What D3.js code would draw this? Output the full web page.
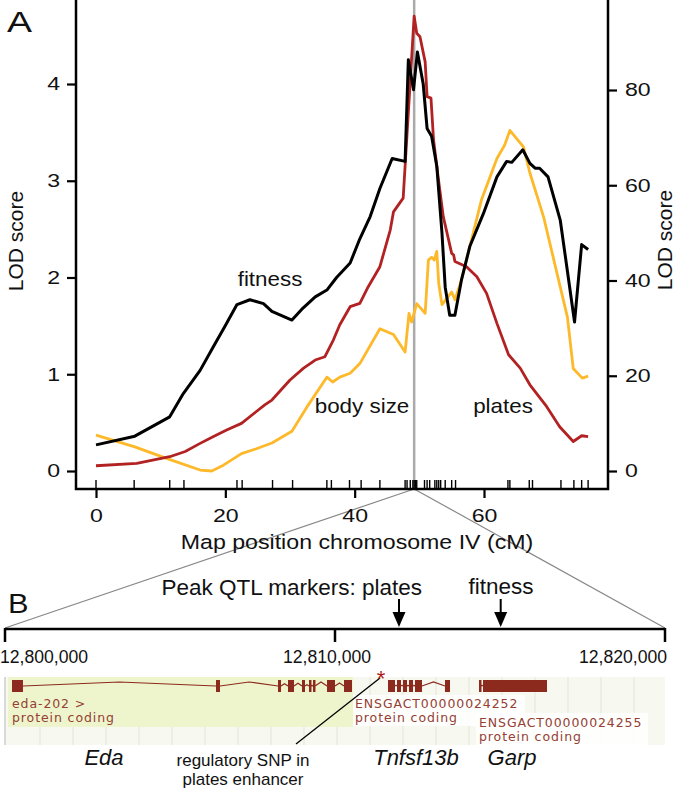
<!DOCTYPE html>
<html><head><meta charset="utf-8">
<script src="https://cdn.jsdelivr.net/npm/d3@7"></script>
<style>body{margin:0;background:#fff}svg{display:block}</style>
</head><body>
<svg id="c" width="677" height="790"></svg>
<script>
// ---------- Panel A data ----------
const fitnessCM  = [0, 6.0, 11.4, 13.5, 16.1, 18.1, 19.9, 21.8, 23.8, 25.9, 27.2, 30.3, 31.8, 33.9, 35.7, 37.2, 39.3, 40.8, 42.4, 43.9, 45.8, 47.8, 48.3, 49.1, 49.7, 50.6, 51.2, 51.9, 52.7, 53.5, 54.0, 54.7, 55.5, 56.5, 57.8, 59.9, 62.0, 63.5, 64.3, 66.0, 67.1, 67.9, 68.6, 69.9, 71.8, 74.0, 75.1, 76.1];
const fitnessLOD = [0.27, 0.36, 0.56, 0.80, 1.04, 1.28, 1.49, 1.72, 1.77, 1.73, 1.65, 1.56, 1.67, 1.80, 1.87, 2.00, 2.15, 2.40, 2.63, 2.92, 3.23, 3.20, 4.25, 3.94, 4.33, 4.00, 3.54, 3.46, 3.15, 2.46, 1.90, 1.61, 1.61, 1.97, 2.32, 2.66, 3.04, 3.20, 3.19, 3.32, 3.18, 3.13, 3.13, 3.04, 2.59, 1.54, 2.34, 2.29];

const bodyCM  = [0, 6.0, 10.9, 16.1, 17.9, 19.7, 22.5, 24.8, 27.2, 30.3, 32.6, 35.7, 36.6, 37.7, 39.3, 40.8, 43.9, 46.0, 47.8, 48.4, 48.8, 49.6, 50.9, 51.4, 51.9, 52.3, 52.7, 53.0, 53.5, 54.2, 55.0, 55.5, 56.5, 59.6, 62.0, 63.2, 64.0, 66.1, 67.1, 69.2, 72.9, 73.8, 75.2, 76.1];
const bodyLOD = [0.37, 0.25, 0.13, 0.01, 0.00, 0.06, 0.18, 0.23, 0.29, 0.41, 0.66, 0.97, 0.92, 0.97, 1.01, 1.11, 1.47, 1.41, 1.23, 1.63, 1.54, 1.73, 1.63, 2.18, 2.21, 2.18, 2.27, 1.94, 1.72, 1.78, 1.85, 1.77, 1.97, 2.80, 3.23, 3.37, 3.52, 3.35, 3.08, 2.63, 1.59, 1.06, 0.96, 0.98];

const platesCM  = [0, 6.3, 11.4, 13.8, 16.1, 18.1, 20.2, 22.5, 24.8, 26.1, 27.2, 30.0, 32.1, 33.9, 35.4, 36.7, 37.7, 39.3, 40.8, 42.1, 43.9, 45.5, 46.0, 47.5, 49.2, 49.6, 50.1, 50.9, 51.2, 51.8, 52.2, 52.9, 53.7, 54.5, 55.0, 55.3, 55.5, 57.3, 58.9, 60.4, 62.0, 63.8, 65.6, 67.1, 69.7, 71.7, 73.8, 75.1, 76.1];
const platesLOD = [1.1, 1.6, 3.0, 4.1, 5.8, 7.2, 8.6, 10.0, 12.5, 13.9, 14.9, 19.1, 21.6, 23.3, 24.0, 27.5, 30.7, 34.5, 35.2, 38.7, 42.9, 50.6, 54.4, 57.3, 95.5, 91.9, 91.2, 85.9, 78.6, 78.3, 69.5, 61.8, 53.4, 48.7, 45.7, 45.4, 44.0, 42.9, 40.8, 37.3, 31.0, 24.4, 21.6, 18.1, 13.5, 9.3, 6.2, 7.4, 7.2];

const markerCM = [0, 5.9, 11.4, 13.6, 21.8, 22.6, 27.3, 30.4, 35.7, 36.4, 39.2, 41.0, 43.9, 47.8, 48.1, 48.6, 49.0, 49.2, 49.4, 49.6, 50.8, 51.2, 51.6, 52.4, 52.7, 53.0, 53.3, 54.0, 55.0, 55.6, 63.7, 64.0, 67.0, 67.5, 71.9, 73.9, 75.1, 76.1];
const peakCM = 49.2;
const xTicks = [0, 20, 40, 60];
const leftTicks = [0, 1, 2, 3, 4];
const rightTicks = [0, 20, 40, 60, 80];

// ---------- Panel B data ----------
const genomeTicks = [12800000, 12810000, 12820000];
const edaExons = [[12800212,12800545],[12806394,12806515],[12808273,12808364],[12808576,12808758],[12809000,12809091],[12809212,12809273],[12809333,12809394],[12809758,12810000],[12810273,12810515]];
const tnfExons = [[12811606,12811818],[12811879,12812000],[12812061,12812182],[12812242,12812364],[12812424,12812636],[12813333,12813485]];
const garpExons = [[12814364,12814424],[12814485,12816424]];
const edaRegion = [12800091, 12810545];
const snpPos = 12811394;
const peakMarkers = [{label:"plates", pos:12811939}, {label:"fitness", pos:12815021}];

const svg = d3.select("#c");
const FONT = "'Liberation Sans', Arial, Helvetica, sans-serif";
const ENS = "'DejaVu Sans', Verdana, sans-serif";

// scales
const x = d3.scaleLinear().domain([0, 60]).range([96, 484]);
const yL = d3.scaleLinear().domain([0, 4]).range([471, 84]);
const yR = d3.scaleLinear().domain([0, 80]).range([471, 90]);
const axL = 76, axR = 608, axB = 489;

function stext(g, tx, ty, str, size, sx, anchor) {
  return g.append("text").attr("transform", `translate(${tx},${ty}) scale(${sx},1)`)
    .attr("font-family", FONT).attr("font-size", size).attr("text-anchor", anchor || "start")
    .attr("fill", "#111").text(str);
}

// peak grey line
svg.append("line").attr("x1", x(peakCM)).attr("x2", x(peakCM)).attr("y1", 0).attr("y2", axB)
  .attr("stroke", "#aaa").attr("stroke-width", 2.5);

// zoom connector lines
const gB = d3.scaleLinear().domain([12800000, 12820000]).range([5, 665]);
svg.append("line").attr("x1", x(peakCM)).attr("y1", axB).attr("x2", gB(genomeTicks[0])).attr("y2", 628)
  .attr("stroke", "#888").attr("stroke-width", 1.2);
svg.append("line").attr("x1", x(peakCM)).attr("y1", axB).attr("x2", gB(genomeTicks[2])).attr("y2", 628)
  .attr("stroke", "#888").attr("stroke-width", 1.2);

// curves
const lineL = d3.line().x(d => x(d[0])).y(d => yL(d[1]));
const lineR = d3.line().x(d => x(d[0])).y(d => yR(d[1]));
svg.append("path").attr("d", lineL(d3.zip(bodyCM, bodyLOD))).attr("fill", "none")
  .attr("stroke", "#fdb92a").attr("stroke-width", 2.8).attr("stroke-linejoin", "round");
svg.append("path").attr("d", lineR(d3.zip(platesCM, platesLOD))).attr("fill", "none")
  .attr("stroke", "#b22222").attr("stroke-width", 2.8).attr("stroke-linejoin", "round");
svg.append("path").attr("d", lineL(d3.zip(fitnessCM, fitnessLOD))).attr("fill", "none")
  .attr("stroke", "#000").attr("stroke-width", 3).attr("stroke-linejoin", "round");

// axes
svg.append("path").attr("d", `M${axL},0V${axB}H${axR}V0`).attr("fill", "none")
  .attr("stroke", "#000").attr("stroke-width", 2.5);

const TS = 18.5;
const gl = svg.append("g").attr("transform", `translate(${axL},0)`)
  .call(d3.axisLeft(yL).tickValues(leftTicks).tickSize(9).tickFormat(d3.format("d")));
gl.select(".domain").remove();
gl.selectAll("line").attr("stroke-width", 2.2);
gl.selectAll("text").attr("font-family", FONT).attr("font-size", TS).attr("fill", "#111")
  .attr("transform", "scale(1.25,1)").attr("x", -16 / 1.25);

const gr = svg.append("g").attr("transform", `translate(${axR},0)`)
  .call(d3.axisRight(yR).tickValues(rightTicks).tickSize(9).tickFormat(d3.format("d")));
gr.select(".domain").remove();
gr.selectAll("line").attr("stroke-width", 2.2);
gr.selectAll("text").attr("font-family", FONT).attr("font-size", TS).attr("fill", "#111")
  .attr("transform", "scale(1.25,1)").attr("x", 17 / 1.25);

const gx = svg.append("g").attr("transform", `translate(0,${axB})`)
  .call(d3.axisBottom(x).tickValues(xTicks).tickSize(9).tickFormat(d3.format("d")));
gx.select(".domain").remove();
gx.selectAll("line").attr("stroke-width", 2.2);
gx.selectAll("text").attr("font-family", FONT).attr("font-size", TS).attr("fill", "#111")
  .attr("transform", "scale(1.25,1)").attr("y", 33).attr("dy", 0);

// rug of markers
svg.append("g").selectAll("line").data(markerCM).join("line")
  .attr("x1", d => x(d)).attr("x2", d => x(d)).attr("y1", axB).attr("y2", axB - 9)
  .attr("stroke", "#000").attr("stroke-width", 1.4);

// labels panel A
stext(svg, 7, 32, "A", 30, 1.25, "start");
stext(svg, 357, 549, "Map position chromosome IV (cM)", 20.5, 1.13, "middle");
svg.append("text").attr("transform", "translate(23,241) rotate(-90)").attr("text-anchor", "middle")
  .attr("font-family", FONT).attr("font-size", 21).attr("fill", "#111").text("LOD score");
svg.append("text").attr("transform", "translate(672,240) rotate(-90)").attr("text-anchor", "middle")
  .attr("font-family", FONT).attr("font-size", 21).attr("fill", "#111").text("LOD score");
stext(svg, 270, 286, "fitness", 20, 1.12, "middle");
stext(svg, 362, 413, "body size", 20, 1.12, "middle");
stext(svg, 503, 413, "plates", 20, 1.12, "middle");

// ---------- Panel B ----------
stext(svg, 8, 613, "B", 28, 1.1, "start");
const bY = 629;
svg.append("line").attr("x1", gB.range()[0]).attr("x2", gB.range()[1]).attr("y1", bY).attr("y2", bY)
  .attr("stroke", "#000").attr("stroke-width", 2.5);
svg.append("g").selectAll("line").data(genomeTicks).join("line")
  .attr("x1", d => gB(d)).attr("x2", d => gB(d)).attr("y1", bY - 1).attr("y2", bY + 13)
  .attr("stroke", "#000").attr("stroke-width", 2.5);
const fmt = d3.format(",");
const tickAnchors = ["start", "middle", "end"];
const tickDx = [-5, -8, 2];
svg.append("g").selectAll("text").data(genomeTicks).join("text")
  .attr("x", (d, i) => gB(d) + tickDx[i]).attr("y", 663)
  .attr("text-anchor", (d, i) => tickAnchors[i])
  .attr("font-family", FONT).attr("font-size", 17.6).attr("fill", "#111").text(d => fmt(d));

svg.append("text").attr("x", 422).attr("y", 595).attr("text-anchor", "end")
  .attr("font-family", FONT).attr("font-size", 22.5).attr("fill", "#111").text("Peak QTL markers: plates");
svg.append("text").attr("x", 501).attr("y", 594).attr("text-anchor", "middle")
  .attr("font-family", FONT).attr("font-size", 22.5).attr("fill", "#111").text("fitness");
peakMarkers.forEach(m => {
  const px = gB(m.pos);
  svg.append("line").attr("x1", px).attr("x2", px).attr("y1", 599).attr("y2", 614)
    .attr("stroke", "#000").attr("stroke-width", 2);
  svg.append("path").attr("d", `M${px - 6.5},${612}L${px + 6.5},${612}L${px},${627}Z`).attr("fill", "#000");
});

// gene track background
const trackTop = 677, trackBot = 745;
svg.append("rect").attr("x", gB(12800000)).attr("y", trackTop).attr("width", gB(12820000) - gB(12800000))
  .attr("height", trackBot - trackTop).attr("fill", "#f7f8ef");
const grid = d3.range(1, 20).map(k => 12800000 + k * 1000 + 60);
svg.append("g").selectAll("line").data(grid).join("line")
  .attr("x1", d => gB(d)).attr("x2", d => gB(d)).attr("y1", trackTop).attr("y2", trackBot)
  .attr("stroke", "#e4e4dc").attr("stroke-width", 1);
svg.append("line").attr("x1", 5).attr("x2", 5).attr("y1", trackTop).attr("y2", trackBot)
  .attr("stroke", "#cfcfcf").attr("stroke-width", 1.5);
svg.append("rect").attr("x", gB(edaRegion[0])).attr("y", trackTop).attr("width", gB(edaRegion[1]) - gB(edaRegion[0]))
  .attr("height", 50).attr("fill", "#eef5cd");
// label boxes
svg.append("rect").attr("x", 353).attr("y", 695).attr("width", 172).attr("height", 31).attr("fill", "#fff").attr("opacity", 0.85);
svg.append("rect").attr("x", 476).attr("y", 713).attr("width", 172).attr("height", 32).attr("fill", "#fff").attr("opacity", 0.85);

const exonCol = "#8c2a1e";
function drawGene(exons) {
  const g = svg.append("g");
  const cy = 686;
  for (let i = 0; i < exons.length - 1; i++) {
    const a = gB(exons[i][1]), b = gB(exons[i + 1][0]);
    if (b - a > 1) {
      const h = Math.min(4, (b - a) / 3);
      g.append("path").attr("d", `M${a},${cy}L${(a + b) / 2},${cy - h}L${b},${cy}`)
        .attr("fill", "none").attr("stroke", exonCol).attr("stroke-width", 1.2);
    }
  }
  g.selectAll("rect").data(exons).join("rect")
    .attr("x", d => gB(d[0])).attr("width", d => Math.max(2.5, gB(d[1]) - gB(d[0])))
    .attr("y", 680).attr("height", 12).attr("fill", exonCol);
}
drawGene(edaExons);
drawGene(tnfExons);
drawGene(garpExons);

const ensCol = "#944033";
function ens(xp, yp, str) {
  svg.append("text").attr("x", xp).attr("y", yp).attr("font-family", ENS).attr("font-size", 12.5)
    .attr("letter-spacing", 0.9).attr("fill", ensCol).text(str);
}
ens(12, 707.5, "eda-202 >");
ens(12, 722, "protein coding");
ens(355, 707.5, "ENSGACT00000024252");
ens(355, 722, "protein coding");
ens(479, 726.5, "ENSGACT00000024255");
ens(479, 741, "protein coding");

// SNP
svg.append("line").attr("x1", gB(snpPos) - 1).attr("y1", 678).attr("x2", 296).attr("y2", 744)
  .attr("stroke", "#000").attr("stroke-width", 1.3);
svg.append("text").attr("x", gB(snpPos)).attr("y", 686).attr("text-anchor", "middle")
  .attr("font-family", FONT).attr("font-size", 22).attr("fill", "#b01c1c").text("*");

// gene names
function gname(xp, str) {
  svg.append("text").attr("x", xp).attr("y", 765).attr("text-anchor", "middle")
    .attr("font-family", FONT).attr("font-style", "italic").attr("font-size", 22).attr("fill", "#111").text(str);
}
gname(104, "Eda");
gname(416, "Tnfsf13b");
gname(512, "Garp");

svg.append("text").attr("x", 243).attr("y", 766).attr("text-anchor", "middle")
  .attr("font-family", FONT).attr("font-size", 17).attr("fill", "#111").text("regulatory SNP in");
svg.append("text").attr("x", 243).attr("y", 785).attr("text-anchor", "middle")
  .attr("font-family", FONT).attr("font-size", 17).attr("fill", "#111").text("plates enhancer");
</script>
</body></html>
